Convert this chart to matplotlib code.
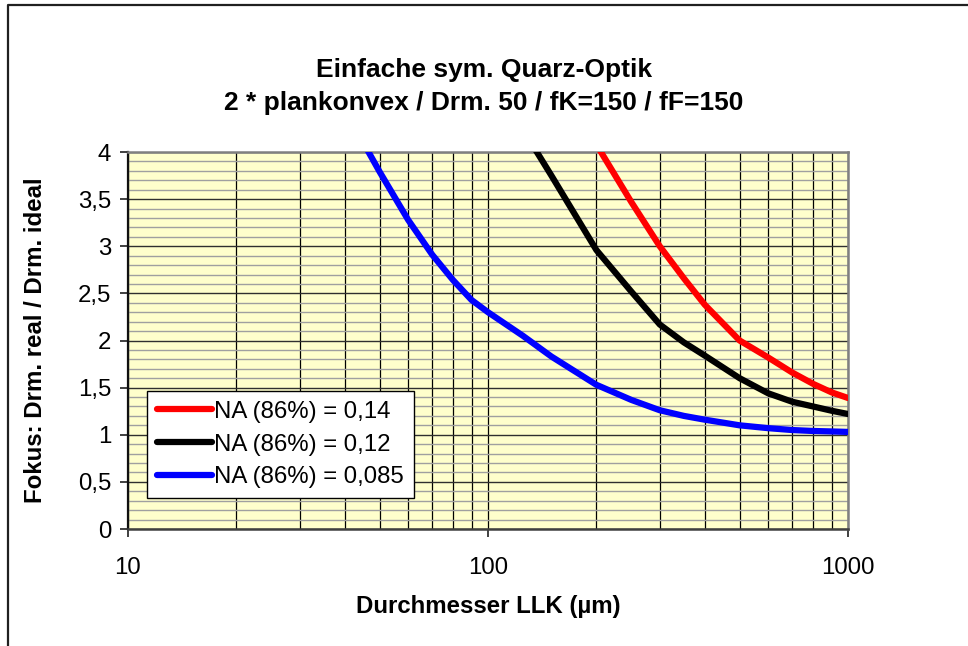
import numpy as np
import matplotlib.pyplot as plt
from matplotlib.ticker import FixedLocator, FuncFormatter, NullFormatter
from matplotlib.lines import Line2D

plt.rcParams['font.family'] = ['Liberation Sans', 'DejaVu Sans']

# Data
x_red = [200, 250, 300, 350, 400, 500, 600, 700, 800, 900, 1000]
y_red = [4.08, 3.47, 3.0, 2.66, 2.38, 2.0, 1.82, 1.66, 1.54, 1.45, 1.39]

x_black = [100, 120, 150, 200, 250, 300, 350, 400, 500, 600, 700, 800, 900, 1000]
y_black = [5.2, 4.35, 3.75, 2.96, 2.52, 2.17, 1.98, 1.84, 1.60, 1.44, 1.35, 1.30, 1.255, 1.22]

x_blue = [40, 50, 60, 70, 80, 90, 100, 125, 150, 200, 250, 300, 350, 400, 500, 600, 700, 800, 900, 1000]
y_blue = [4.45, 3.79, 3.28, 2.91, 2.64, 2.43, 2.30, 2.05, 1.83, 1.53, 1.37, 1.26, 1.20, 1.16, 1.10, 1.07, 1.05, 1.04, 1.035, 1.03]

labels = ['NA (86%) = 0,14', 'NA (86%) = 0,12', 'NA (86%) = 0,085']
title = 'Einfache sym. Quarz-Optik\n2 * plankonvex / Drm. 50 / fK=150 / fF=150'

# Plot parameters
fontl = 17.3
lw = 4.5

fig = plt.figure(figsize=(9.68, 6.46), dpi=100)
ax = fig.add_axes([128/968, 1-529/646, 720/968, 377/646])
ax.set_facecolor('#FFFFCC')

ax.plot(x_red, y_red, color='#FF0000', lw=lw, label=labels[0], solid_capstyle='round', solid_joinstyle='round', zorder=5)
ax.plot(x_black, y_black, color='#000000', lw=lw, label=labels[1], solid_capstyle='round', solid_joinstyle='round', zorder=5)
ax.plot(x_blue, y_blue, color='#0000FF', lw=lw, label=labels[2], solid_capstyle='round', solid_joinstyle='round', zorder=5)

ax.set_xscale('log')
ax.set_xlim(10, 1000)
ax.set_ylim(0, 4)

# grid
ax.xaxis.set_major_locator(FixedLocator([10, 100, 1000]))
ax.xaxis.set_minor_locator(FixedLocator([k*10**d for d in (1, 2) for k in range(2, 10)]))
ax.xaxis.set_minor_formatter(NullFormatter())
ax.xaxis.set_major_formatter(FuncFormatter(lambda v, p: '%d' % v))
ax.yaxis.set_major_locator(FixedLocator(np.arange(0, 4.01, 0.5)))
ax.yaxis.set_minor_locator(FixedLocator(np.arange(0, 4.01, 0.1)))
ax.yaxis.set_major_formatter(FuncFormatter(lambda v, p: ('%g' % v).replace('.', ',')))

ax.grid(axis='y', which='minor', color='#A0A0A0', lw=1.0)
ax.grid(axis='y', which='major', color='#303030', lw=1.0)
ax.grid(axis='x', which='both', color='#000000', lw=0.9)
ax.set_axisbelow(True)

ax.tick_params(axis='both', which='major', labelsize=fontl, length=6, width=1.2, direction='out', color='#202020')
ax.tick_params(axis='x', which='major', pad=14)
ax.tick_params(axis='y', which='major', pad=6)
ax.tick_params(axis='x', which='minor', length=0)
ax.tick_params(axis='y', which='minor', length=0)

for s in ('top', 'right'):
    ax.spines[s].set_color('#808080')
    ax.spines[s].set_linewidth(1.8)
ax.spines['left'].set_color('#101010')
ax.spines['left'].set_linewidth(1.6)
ax.spines['bottom'].set_color('#404040')
ax.spines['bottom'].set_linewidth(1.8)

leg = ax.legend(loc='lower left', bbox_to_anchor=(19/720, 31/377), borderaxespad=0,
                fontsize=fontl, frameon=True, fancybox=False, shadow=False,
                handlelength=2.3, handletextpad=0.1, labelspacing=0.45, borderpad=0.4)
leg.get_frame().set_edgecolor('#000000')
leg.get_frame().set_linewidth(1.0)
leg.get_frame().set_alpha(1)

ax.set_xlabel('Durchmesser LLK (µm)', fontsize=fontl, fontweight='bold', labelpad=12)
ax.set_ylabel('Fokus: Drm. real / Drm. ideal', fontsize=fontl, fontweight='bold', labelpad=22)

fig.text(0.5, 1-86.5/646, title, ha='center', va='center', fontsize=19, fontweight='bold', linespacing=1.43)

# outer chart border (only left and top visible)
fig.add_artist(Line2D([8/968, 8/968, 1.0], [0.0, 1-5/646, 1-5/646], transform=fig.transFigure,
                      color='#202020', lw=1.6))

fig.savefig('out.png', dpi=100)
plt.close(fig)
